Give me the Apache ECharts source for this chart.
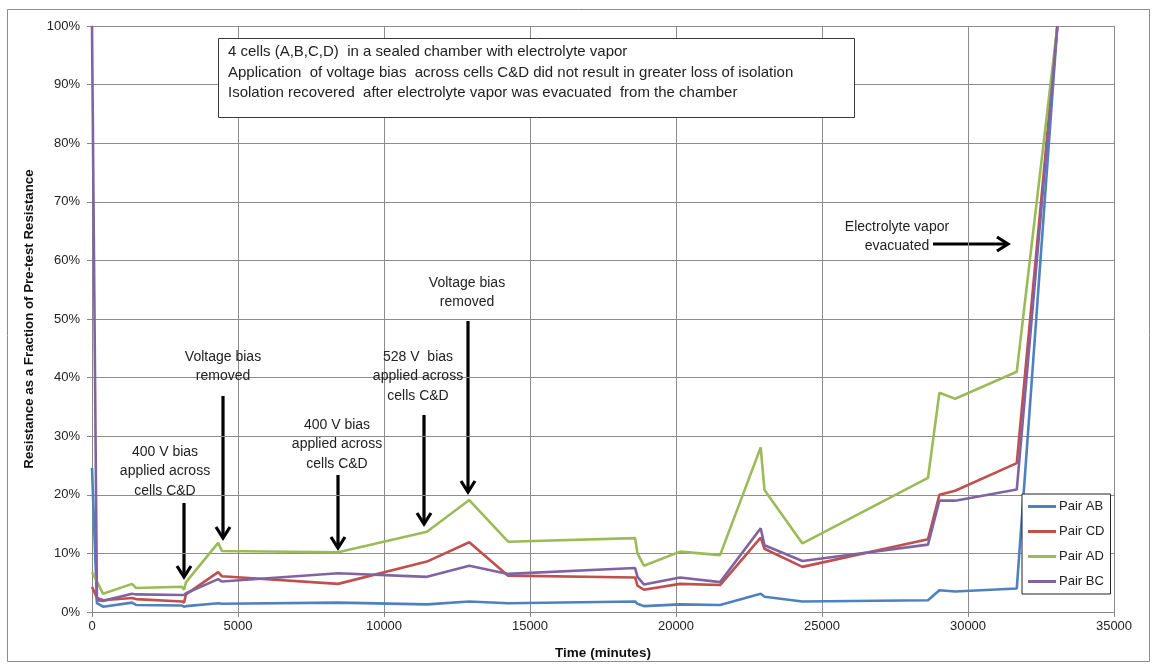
<!DOCTYPE html>
<html>
<head>
<meta charset="utf-8">
<script src="https://cdn.jsdelivr.net/npm/echarts@6/dist/echarts.min.js"></script>
<style>
  html, body { margin: 0; padding: 0; background: #fff; }
  #chart { width: 1154px; height: 669px; }
</style>
</head>
<body>
<div id="chart"></div>
<script>
// Elapsed time of each reading (minutes)
const timeMinutes = [0, 170, 380, 1370, 1510, 3080, 3150, 3220, 4320, 4450, 8430, 11470, 12920, 14250,
  18600, 18680, 18900, 20140, 21510, 22900, 23030, 24330, 28630, 29020, 29560, 31670, 33060];

// Resistance as a percentage of pre-test resistance, per cell pair
const pairAB = [24.6, 1.5, 0.9, 1.6, 1.2, 1.1, 0.9, 1.0, 1.5, 1.4, 1.6, 1.3, 1.8, 1.5,
  1.8, 1.4, 1.0, 1.3, 1.2, 3.1, 2.6, 1.8, 2.0, 3.7, 3.5, 4.0, 100];
const pairCD = [4.3, 2.4, 2.0, 2.4, 2.2, 1.8, 1.6, 3.0, 6.8, 6.1, 4.8, 8.6, 11.9, 6.2,
  5.9, 4.5, 3.8, 4.8, 4.6, 12.7, 10.8, 7.7, 12.4, 20.0, 20.7, 25.4, 100];
const pairAD = [6.8, 5.2, 3.1, 4.8, 4.1, 4.3, 3.8, 5.1, 11.8, 10.4, 10.2, 13.7, 19.1, 12.0,
  12.6, 10.0, 7.9, 10.3, 9.7, 28.1, 20.8, 11.7, 22.9, 37.4, 36.4, 41.0, 100];
const pairBC = [100, 2.0, 1.9, 3.1, 3.0, 2.9, 2.9, 3.2, 5.6, 5.2, 6.6, 6.0, 7.9, 6.5,
  7.5, 6.0, 4.7, 5.9, 5.1, 14.3, 11.4, 8.7, 11.5, 19.0, 19.0, 20.9, 100];

const seriesNames = ['Pair AB', 'Pair CD', 'Pair AD', 'Pair BC'];
const seriesValues = [pairAB, pairCD, pairAD, pairBC];
const seriesColors = ['#4F81BD', '#C0504D', '#9BBB59', '#8064A2'];

// Axis ranges and steps
const xMin = 0, xMax = 35000, xStep = 5000;
const yMin = 0, yMax = 100, yStep = 10;

const noteLines = [
  '4 cells (A,B,C,D)  in a sealed chamber with electrolyte vapor',
  'Application  of voltage bias  across cells C&D did not result in greater loss of isolation',
  'Isolation recovered  after electrolyte vapor was evacuated  from the chamber'
];

const FONT = 'Liberation Sans, Arial, sans-serif';
const chart = echarts.init(document.getElementById('chart'), null, { renderer: 'canvas' });

// Black call-out arrow with an open chevron head
function arrow(x1, y1, x2, y2) {
  const dx = x2 - x1, dy = y2 - y1;
  const len = Math.sqrt(dx * dx + dy * dy);
  const ux = dx / len, uy = dy / len;
  const px = -uy, py = ux;
  const back = 11, half = 7;
  return {
    type: 'group',
    z: 50,
    children: [
      { type: 'line', shape: { x1: x1, y1: y1, x2: x2 - ux * 2, y2: y2 - uy * 2 },
        style: { stroke: '#000', lineWidth: 3.2 } },
      { type: 'polyline',
        shape: { points: [
          [x2 - ux * back + px * half, y2 - uy * back + py * half],
          [x2, y2],
          [x2 - ux * back - px * half, y2 - uy * back - py * half]
        ] },
        style: { stroke: '#000', lineWidth: 3.2, fill: null, lineJoin: 'miter' } }
    ]
  };
}

function note(text, cx, top) {
  return {
    type: 'text', z: 50,
    style: {
      text: text, x: cx, y: top, textAlign: 'center', textVerticalAlign: 'top',
      font: '14px ' + FONT, fill: '#222', lineHeight: 19.5
    }
  };
}

const graphics = [
  // outer chart frame
  { type: 'rect', z: -10, silent: true,
    shape: { x: 7.5, y: 9.5, width: 1142, height: 652 },
    style: { fill: null, stroke: '#8c8c8c', lineWidth: 1 } },
  // description box
  { type: 'rect', z: 40,
    shape: { x: 218.5, y: 38.5, width: 636, height: 79 },
    style: { fill: '#fff', stroke: '#3a3a3a', lineWidth: 1 } },
  { type: 'text', z: 41,
    style: { text: noteLines.join('\n'), x: 228, y: 42, textAlign: 'left', textVerticalAlign: 'top',
      font: '15px ' + FONT, fill: '#222', lineHeight: 20.5 } },

  note('400 V bias\napplied across\ncells C&D', 165, 442),
  arrow(184, 503, 184, 577),
  note('Voltage bias\nremoved', 223, 347),
  arrow(223, 396, 223, 538),
  note('400 V bias\napplied across\ncells C&D', 337, 415),
  arrow(338, 475, 338, 548),
  note('528 V  bias\napplied across\ncells C&D', 418, 347),
  arrow(424, 415, 424, 524),
  note('Voltage bias\nremoved', 467, 273),
  arrow(468, 321, 468, 492),
  note('Electrolyte vapor\nevacuated', 897, 217),
  arrow(933, 244, 1008, 244)
];

const option = {
  animation: false,
  backgroundColor: '#fff',
  textStyle: { fontFamily: FONT },
  grid: { left: 92, top: 26, width: 1022, height: 586, containLabel: false },
  legend: {
    data: seriesNames,
    orient: 'vertical',
    left: 1022, top: 494,
    padding: [6, 6, 6, 6],
    itemGap: 12,
    itemWidth: 28, itemHeight: 3,
    icon: 'rect',
    backgroundColor: '#fff',
    borderColor: '#222', borderWidth: 1,
    textStyle: { fontSize: 13, color: '#222', fontFamily: FONT, padding: [0, 0, 0, -2] },
    z: 30
  },
  xAxis: {
    type: 'value', min: xMin, max: xMax, interval: xStep,
    name: 'Time (minutes)', nameLocation: 'middle', nameGap: 34,
    nameTextStyle: { fontSize: 13.5, fontWeight: 'bold', color: '#111', fontFamily: FONT },
    axisLine: { show: true, lineStyle: { color: '#868686', width: 1 } },
    axisTick: { show: true, length: 5, lineStyle: { color: '#868686' } },
    axisLabel: { fontSize: 13, color: '#222', margin: 8, formatter: v => String(v) },
    splitLine: { show: true, lineStyle: { color: '#8c8c8c', width: 1 } }
  },
  yAxis: {
    type: 'value', min: yMin, max: yMax, interval: yStep,
    name: 'Resistance as a Fraction of Pre-test Resistance', nameLocation: 'middle', nameGap: 51,
    nameTextStyle: { fontSize: 13.3, fontWeight: 'bold', color: '#111', fontFamily: FONT },
    axisLine: { show: true, lineStyle: { color: '#868686', width: 1 } },
    axisTick: { show: true, length: 5, lineStyle: { color: '#868686' } },
    axisLabel: { fontSize: 13, color: '#222', margin: 12, formatter: v => v + '%' },
    splitLine: { show: true, lineStyle: { color: '#8c8c8c', width: 1 } }
  },
  series: seriesNames.map((name, i) => ({
    name: name,
    type: 'line',
    data: timeMinutes.map((t, j) => [t, seriesValues[i][j]]),
    showSymbol: false,
    symbol: 'none',
    color: seriesColors[i],
    lineStyle: { color: seriesColors[i], width: 2.6 },
    clip: true,
    z: 10 + i
  })),
  graphic: graphics
};

chart.setOption(option);
</script>
</body>
</html>
